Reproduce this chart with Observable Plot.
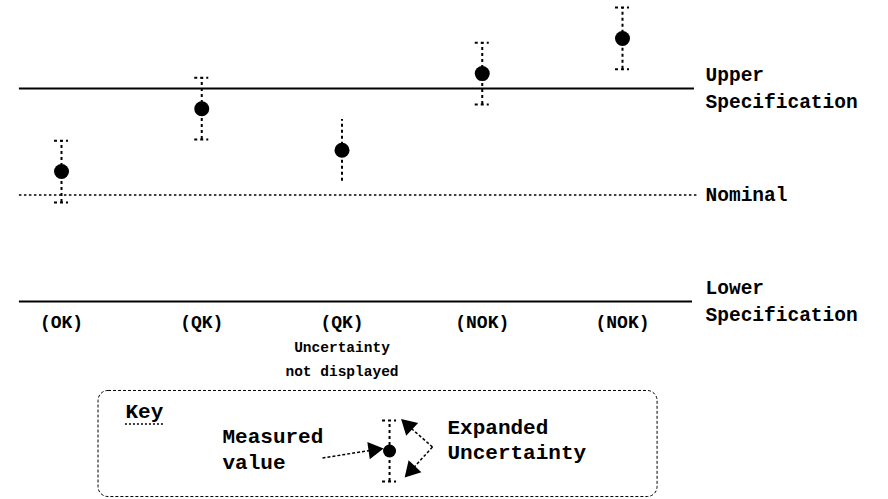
<!DOCTYPE html>
<html>
<head>
<meta charset="utf-8">
<script src="https://cdn.jsdelivr.net/npm/d3@7"></script>
<script src="https://cdn.jsdelivr.net/npm/@observablehq/plot@0.6"></script>
<style>
  body { margin: 0; background: #fff; }
</style>
</head>
<body>
<div id="chart"></div>
<script>
// ---- data ----
const parts = [0, 1, 2, 3, 4];
const statusLabels = ["(OK)", "(QK)", "(QK)", "(NOK)", "(NOK)"];
const measured = [0.22, 0.81, 0.42, 1.14, 1.47];
const uncertainty = [0.29, 0.29, 0.29, 0.29, 0.29];
const capsShown = [true, true, false, true, true];
const limitValues = [1, 0, -1];
const limitLabels = ["Upper\nSpecification", "Nominal", "Lower\nSpecification"];
const limitEnds = [4.513, 4.542, 4.499];
const noteText = ["Uncertainty", "not displayed"];

// key (legend) glyph, in the same value units
const keyValue = -2.404;
const keyPart = 2.339;
const keyU = 0.287;

const F = "Liberation Mono, Courier New, monospace";
const pts = parts.map((p, i) => ({
  x: p, y: measured[i], lo: measured[i] - uncertainty[i], hi: measured[i] + uncertainty[i],
  caps: capsShown[i], label: statusLabels[i]
}));
const caps = pts.filter(d => d.caps).flatMap(d => [{x: d.x, y: d.lo}, {x: d.x, y: d.hi}]);
const limits = limitValues.map((v, i) => ({y: v, label: limitLabels[i], end: limitEnds[i], nominal: v === 0}));

const keyCaps = [keyValue - keyU, keyValue + keyU].map(y => ({x: keyPart, y}));
const keyLinks = [
  {x1: 1.861, y1: -2.469, x2: 2.225, y2: -2.394},
  {x1: 2.645, y1: -2.366, x2: 2.474, y2: -2.169},
  {x1: 2.645, y1: -2.366, x2: 2.496, y2: -2.582}
];
const keyHeads = [
  {x: 2.225, y: -2.394, rot: 82},
  {x: 2.474, y: -2.169, rot: -47},
  {x: 2.496, y: -2.582, rot: 223}
];

const chart = Plot.plot({
  width: 888,
  height: 499,
  margin: 0,
  x: {domain: [0, 4], range: [61, 622], axis: null},
  y: {domain: [-1, 1], range: [301, 88], axis: null},
  style: {fontFamily: F, background: "#fff"},
  marks: [
    // specification limits and nominal
    Plot.ruleY(limits.filter(d => !d.nominal), {y: "y", x1: -0.30, x2: "end", stroke: "#000", strokeWidth: 2}),
    Plot.ruleY(limits.filter(d => d.nominal), {y: "y", x1: -0.30, x2: "end", stroke: "#000", strokeWidth: 1.5, strokeDasharray: "2.5,2.5"}),
    Plot.text(limits, {x: 4.592, y: "y", dy: -3, text: "label", textAnchor: "start", lineAnchor: "middle", lineHeight: 1.42, fontSize: 19.5, fontWeight: "bold", fill: "#000"}),
    // uncertainty bars
    Plot.ruleX(pts, {x: "x", y1: "lo", y2: "hi", stroke: "#000", strokeWidth: 2, strokeDasharray: "3,3"}),
    Plot.ruleY(caps, {y: "y", x1: d => d.x - 0.05, x2: d => d.x + 0.05, stroke: "#000", strokeWidth: 2, strokeDasharray: "3,3"}),
    Plot.dot(pts, {x: "x", y: "y", r: 7.5, fill: "#000", stroke: "none"}),
    // status labels
    Plot.text(pts, {x: "x", y: -1, dy: 21, text: "label", fontSize: 18, fontWeight: "bold", fill: "#000"}),
    Plot.text([noteText.join("\n")], {x: 2, y: -1, dy: 55, text: d => d, lineHeight: 1.65, lineAnchor: "middle", fontSize: 14.5, fontWeight: "bold", fill: "#000"}),
    // key box
    Plot.rect([0], {x1: 0.264, x2: 4.250, y1: -1.840, y2: -2.836, rx: 10, fill: "none", stroke: "#000", strokeWidth: 1, strokeDasharray: "3,2"}),
    Plot.text(["Key"], {x: 0.456, y: -2.028, text: d => d, textAnchor: "start", fontSize: 21, fontWeight: "bold", fill: "#000"}),
    Plot.ruleY([-2.150], {x1: 0.456, x2: 0.734, stroke: "#000", strokeWidth: 1.5, strokeDasharray: "2,2"}),
    Plot.text(["Measured\nvalue"], {x: 1.148, y: -2.394, dy: -2, text: d => d, textAnchor: "start", lineAnchor: "middle", lineHeight: 1.2, fontSize: 21, fontWeight: "bold", fill: "#000"}),
    Plot.text(["Expanded\nUncertainty"], {x: 2.752, y: -2.305, dy: -2, text: d => d, textAnchor: "start", lineAnchor: "middle", lineHeight: 1.2, fontSize: 21, fontWeight: "bold", fill: "#000"}),
    Plot.ruleX([keyPart], {x: d => d, y1: keyValue - keyU, y2: keyValue + keyU, stroke: "#000", strokeWidth: 2, strokeDasharray: "3,3"}),
    Plot.ruleY(keyCaps, {y: "y", x1: d => d.x - 0.05, x2: d => d.x + 0.05, stroke: "#000", strokeWidth: 2, strokeDasharray: "3,3"}),
    Plot.dot([keyValue], {x: keyPart, y: d => d, r: 6.5, fill: "#000", stroke: "none"}),
    Plot.link(keyLinks, {x1: "x1", y1: "y1", x2: "x2", y2: "y2", stroke: "#000", strokeWidth: 1.5, strokeDasharray: "3,2"}),
    Plot.dot(keyHeads, {x: "x", y: "y", symbol: "triangle", r: 6.5, rotate: "rot", fill: "#000", stroke: "none"})
  ]
});
document.getElementById("chart").appendChild(chart);
</script>
</body>
</html>
